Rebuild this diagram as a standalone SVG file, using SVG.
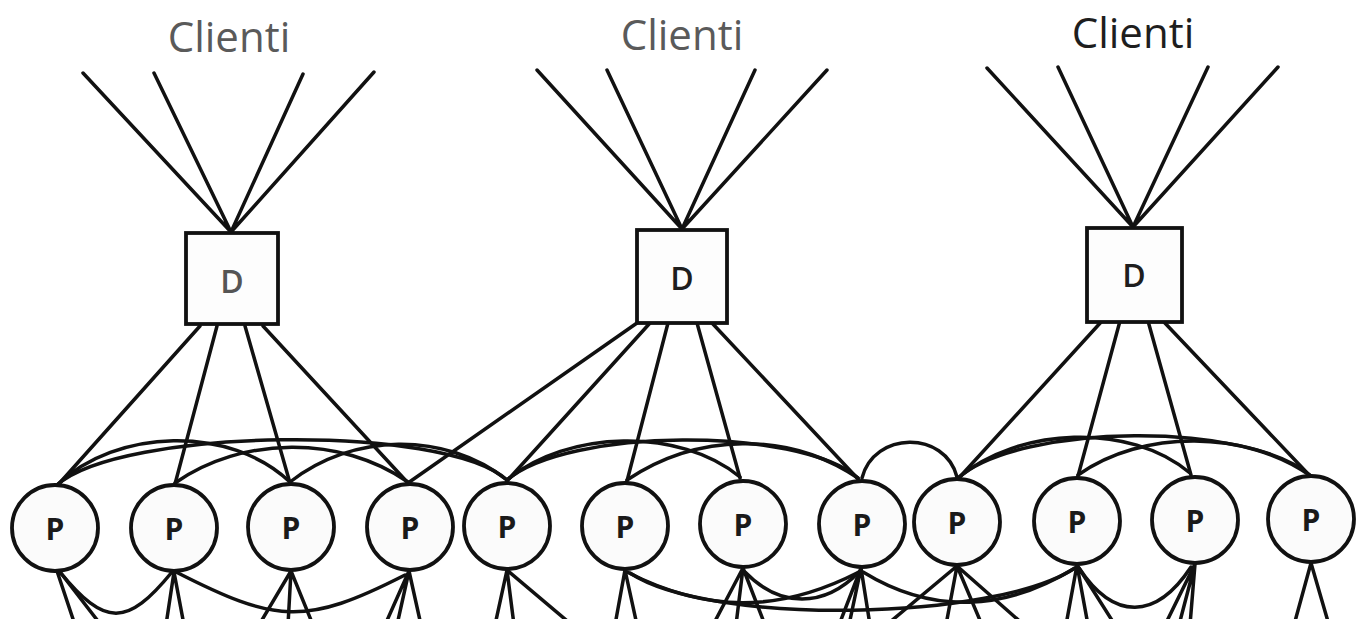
<svg xmlns="http://www.w3.org/2000/svg" width="1356" height="619" viewBox="0 0 1356 619">
<style>
.ln{fill:none;stroke:#111111;stroke-width:3.5;stroke-linecap:round}
.box{fill:#fdfdfd;stroke:#111111;stroke-width:3.8}
.pc{fill:#fbfbfb;stroke:#111111;stroke-width:3.8}
.lbl{font-family:"Open Sans","Noto Sans",sans-serif;text-anchor:middle}
.cl{font-size:42px;font-weight:500}
.d{font-size:32px;font-weight:600}
.p{font-size:30px;font-weight:700;fill:#1a1a1a}
</style>
<rect width="1356" height="619" fill="#ffffff"/>
<g id="labels">
<text class="lbl cl" x="229" y="52" fill="#5a5a5a">Clienti</text>
<text class="lbl cl" x="682" y="50" fill="#5a5a5a">Clienti</text>
<text class="lbl cl" x="1133" y="48" fill="#1e1e1e">Clienti</text>
</g>
<g id="connectors">
<path class="ln" d="M83 73L231 232M154 73L231 232M303 74L231 232M374 72L231 232"/>
<path class="ln" d="M537 70L682 229M607 70L682 229M755 70L682 229M827 70L682 229"/>
<path class="ln" d="M987 68L1133 227M1058 67L1133 227M1208 67L1133 227M1278 67L1133 227"/>
<path class="ln" d="M200 326L57 486M217 326L175 484M245 326L290 483M263 326L408 483"/>
<path class="ln" d="M637 323L408 483M650 323L507 481M668 323L627 481M697 323L740 478M712 323L858 479"/>
<path class="ln" d="M1102 321L958 479M1120 321L1078 476M1148 321L1191 475M1163 321L1311 477"/>
<path class="ln" d="M57 485C117 428 230 425 290 482"/>
<path class="ln" d="M57 485C120 428 444 423 507 480"/>
<path class="ln" d="M175 483C242 436 341 435 408 482"/>
<path class="ln" d="M290 482C352 433 445 431 507 480"/>
<path class="ln" d="M507 480C567 430 680 427 740 477"/>
<path class="ln" d="M627 480C697 433 788 431 858 478"/>
<path class="ln" d="M507 480C567 428 798 426 858 478"/>
<path class="ln" d="M862 478C874 431 945 430 957 477"/>
<path class="ln" d="M958 478C1018 427 1130 422 1190 473"/>
<path class="ln" d="M1078 475C1143 429 1246 430 1311 476"/>
<path class="ln" d="M958 478C1020 423 1249 421 1311 476"/>
<path class="ln" d="M60 572C105 627 127 627 172 572"/>
<path class="ln" d="M176 572C276 623 305 626 405 575"/>
<path class="ln" d="M627 572C707 613 779 613 859 572"/>
<path class="ln" d="M630 573C710 626 995 621 1075 568"/>
<path class="ln" d="M745 572C780 608 824 608 859 572"/>
<path class="ln" d="M863 572C933 615 1005 611 1075 568"/>
<path class="ln" d="M1079 568C1114 621 1156 620 1191 567"/>
<path class="ln" d="M57 571L75 625M60 572L101 625"/>
<path class="ln" d="M174 572L166 625M174 572L184 625"/>
<path class="ln" d="M291 571L259 625M291 571L288 625M291 571L313 625"/>
<path class="ln" d="M409 571L385 625M409 571L397 625M409 571L421 625"/>
<path class="ln" d="M507 570L495 625M507 570L514 625M507 570L572 625"/>
<path class="ln" d="M625 570L615 625M625 570L637 625"/>
<path class="ln" d="M743 568L713 625M743 568L736 625M743 568L765 625"/>
<path class="ln" d="M861 568L839 625M861 568L849 625M861 568L870 625"/>
<path class="ln" d="M957 566L890 622M957 566L946 625M957 566L982 625M957 566L1024 625"/>
<path class="ln" d="M1077 565L1066 625M1077 565L1088 625M1077 565L1115 625"/>
<path class="ln" d="M1195 564L1165 625M1195 564L1179 625M1195 564L1190 625"/>
<path class="ln" d="M1311 563L1294 625M1311 563L1329 625"/>
</g>
<g id="D1"><rect class="box" x="186" y="233" width="92" height="91"/><text class="lbl d" x="232" y="293" fill="#555">D</text></g>
<g id="D2"><rect class="box" x="637" y="230" width="90" height="93"/><text class="lbl d" x="682" y="290" fill="#1e1e1e">D</text></g>
<g id="D3"><rect class="box" x="1087" y="228" width="95" height="94"/><text class="lbl d" x="1134" y="287" fill="#1e1e1e">D</text></g>
<g id="P1"><circle class="pc" cx="55" cy="528" r="43"/><text class="lbl p" x="55" y="540">P</text></g>
<g id="P2"><circle class="pc" cx="174" cy="528" r="43"/><text class="lbl p" x="174" y="540">P</text></g>
<g id="P3"><circle class="pc" cx="291" cy="527" r="43"/><text class="lbl p" x="291" y="539">P</text></g>
<g id="P4"><circle class="pc" cx="410" cy="527" r="43"/><text class="lbl p" x="410" y="539">P</text></g>
<g id="P5"><circle class="pc" cx="507" cy="526" r="43"/><text class="lbl p" x="507" y="538">P</text></g>
<g id="P6"><circle class="pc" cx="625" cy="526" r="43"/><text class="lbl p" x="625" y="538">P</text></g>
<g id="P7"><circle class="pc" cx="743" cy="524" r="43"/><text class="lbl p" x="743" y="536">P</text></g>
<g id="P8"><circle class="pc" cx="862" cy="524" r="43"/><text class="lbl p" x="862" y="536">P</text></g>
<g id="P9"><circle class="pc" cx="957" cy="522" r="43"/><text class="lbl p" x="957" y="534">P</text></g>
<g id="P10"><circle class="pc" cx="1077" cy="521" r="43"/><text class="lbl p" x="1077" y="533">P</text></g>
<g id="P11"><circle class="pc" cx="1195" cy="520" r="43"/><text class="lbl p" x="1195" y="532">P</text></g>
<g id="P12"><circle class="pc" cx="1311" cy="519" r="43"/><text class="lbl p" x="1311" y="531">P</text></g>
</svg>
